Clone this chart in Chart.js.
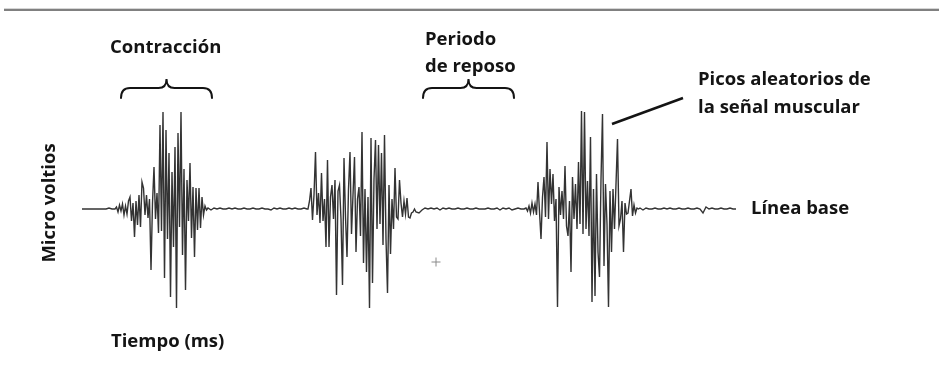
<!DOCTYPE html>
<html lang="es">
<head>
<meta charset="utf-8">
<title>Señal EMG</title>
<script src="https://cdn.jsdelivr.net/npm/chart.js@4.4.1/dist/chart.umd.min.js"></script>
<style>
  html, body { margin: 0; padding: 0; background: #fff; }
  #wrap { position: relative; width: 939px; height: 372px; overflow: hidden; }
  #wrap canvas { position: absolute; left: 0; top: 0; }
  #rule { position: absolute; left: 4px; top: 8px; width: 935px; height: 0;
          border-top: 1px solid #d6d6d6; border-bottom: 2px solid #808080; }
</style>
</head>
<body>
<div id="wrap">
  <canvas id="emg" width="939" height="372"></canvas>
  <div id="rule"></div>
</div>
<script>
// Surface EMG trace in microvolts (µV): quiet stretches sampled every 3 ms,
// contraction bursts sampled every 1.5 ms.
const REST_STEP_MS = 3;
const BURST_STEP_MS = 1.5;

const rest0Start = 0;
const rest0 = [0, 0, 0, 0, 0, 0, 0, 0, 0, 1, 0];

const burst1Start = 33;
const burst1 = [0, 2, -3, 4, -2, 5, -6, 3, -5, 8,
                12, -12, 6, -28, 8, -16, 14, -18, 27, 21,
                -6, 14, -9, 10, -61, 6, 42, -10, 16, -24,
                84, -22, 97, -69, 79, -30, 56, -88, 37, -38,
                62, -99, 76, -18, 97, -46, 40, -81, 29, -12,
                46, -29, 22, -48, 21, -21, 21, -19, 12, -6,
                3, -1];

const rest1Start = 126;
const rest1 = [1, -1, 1, 0, 1, 0, 0, 1, 0, 1, 0, 0, 1, 0, 0, 1, 0,
               0, 1, 0, 0, -1, 1, 0, 1, 0, 0, 1, 0, 1, 0, 0, 1, 0];

const burst2Start = 226;
const burst2 = [0, 8, 21, -11, 14, 57, -6, 16, -14, 36,
                -12, 10, -38, 49, -38, 12, 24, -10, 29, -86,
                18, 24, -10, -76, 51, -8, -48, 20, 57, -25,
                14, 52, -43, 10, 22, -27, 77, -54, 20, -63,
                12, -99, 71, -74, 30, 69, -20, 64, -15, 56,
                -36, 74, -30, -84, 24, -45, 10, -20, 41, -8,
                -10, 29, 6, -8, 8, -5, 11, -8, -9, -4,
                -3, 0];

const rest2Start = 334;
const rest2 = [-3, -4, -1, 1, 0, 1, 0, 1, -1, 1, 0, 1, 0, 0, 1, 0, 0, 1, 0,
               0, 1, 0, 0, 0, 1, 0, 0, 1, -1, 1, 0, 1, -1, 0, 1, 0, 0];

const burst3Start = 444;
const burst3 = [1, -2, 3, -4, 6, -3, 5, -6, 27, -3,
                -30, 12, 32, -8, 67, -10, 40, 5, 35, -12,
                10, -98, 22, -6, 18, -10, 43, -17, -27, 8,
                -63, 32, -10, 25, -20, 47, -15, 98, -25, 97,
                -20, 28, -27, 72, -93, 20, -87, 35, -43, -68,
                30, 95, -57, 25, -15, -98, 18, -43, 20, -20,
                25, 70, -17, -10, 8, -43, 6, -5, -4, 8,
                20, -7, 4, -4, 1, 0];

const rest3Start = 558;
const rest3 = [1, -1, 1, 0, 0, 1, 0, 0, 1, 0, 1, 0, 0, 1, 0, 0, 1,
               0, 0, 1, 0, -4, 2, 0, 1, 0, 0, 1, 0, 0, 1, 0, 0];

// Stray "+" mark below the second rest period.
const strayMark = [{ x: 354, y: -53 }];

const segments = [
  [rest0Start, REST_STEP_MS, rest0],
  [burst1Start, BURST_STEP_MS, burst1],
  [rest1Start, REST_STEP_MS, rest1],
  [burst2Start, BURST_STEP_MS, burst2],
  [rest2Start, REST_STEP_MS, rest2],
  [burst3Start, BURST_STEP_MS, burst3],
  [rest3Start, REST_STEP_MS, rest3]
];

const trace = [];
segments.forEach(([t0, step, values]) => {
  values.forEach((v, i) => trace.push({ x: t0 + i * step, y: v }));
});

// Labels, placed in (ms, µV) so they follow the scales.
const LABEL_FONT = 'bold 18.5px "Open Sans", "DejaVu Sans", sans-serif';
const labels = [
  { text: 'Contracción',          t: 28,  v: 156 },
  { text: 'Periodo',              t: 343, v: 164 },
  { text: 'de reposo',            t: 343, v: 137 },
  { text: 'Picos aleatorios de',  t: 616, v: 124 },
  { text: 'la señal muscular',    t: 616, v: 96 },
  { text: 'Línea base',           t: 669, v: -5 },
  { text: 'Tiempo (ms)',          t: 29,  v: -138 }
];
const yAxisLabel = { text: 'Micro voltios', t: -32, v: 6 };
const braces = [
  { from: 39,  to: 130 },
  { from: 341, to: 432 }
];
const pointer = { t1: 530, v1: 85, t2: 601, v2: 111 };

function drawBrace(ctx, x1, x2, yEnd, yBar, yTip) {
  const xm = (x1 + x2) / 2;
  ctx.beginPath();
  ctx.moveTo(x1, yEnd);
  ctx.quadraticCurveTo(x1, yBar, x1 + 9, yBar);
  ctx.lineTo(xm - 8, yBar);
  ctx.quadraticCurveTo(xm, yBar, xm, yTip);
  ctx.quadraticCurveTo(xm, yBar, xm + 8, yBar);
  ctx.lineTo(x2 - 9, yBar);
  ctx.quadraticCurveTo(x2, yBar, x2, yEnd);
  ctx.stroke();
}

const notesPlugin = {
  id: 'emgNotes',
  afterDatasetsDraw(chart) {
    const { ctx, scales: { x, y } } = chart;
    ctx.save();
    ctx.fillStyle = '#141414';
    ctx.strokeStyle = '#141414';
    ctx.font = LABEL_FONT;
    ctx.textAlign = 'left';
    ctx.textBaseline = 'alphabetic';
    labels.forEach(l => ctx.fillText(l.text, x.getPixelForValue(l.t), y.getPixelForValue(l.v)));

    ctx.save();
    ctx.translate(x.getPixelForValue(yAxisLabel.t), y.getPixelForValue(yAxisLabel.v));
    ctx.rotate(-Math.PI / 2);
    ctx.textAlign = 'center';
    ctx.textBaseline = 'middle';
    ctx.fillText(yAxisLabel.text, 0, 0);
    ctx.restore();

    ctx.lineWidth = 2;
    ctx.lineCap = 'round';
    const yEnd = y.getPixelForValue(111);
    const yBar = y.getPixelForValue(121);
    const yTip = y.getPixelForValue(130);
    braces.forEach(b => drawBrace(ctx, x.getPixelForValue(b.from), x.getPixelForValue(b.to), yEnd, yBar, yTip));

    ctx.lineWidth = 2.5;
    ctx.lineCap = 'butt';
    ctx.beginPath();
    ctx.moveTo(x.getPixelForValue(pointer.t1), y.getPixelForValue(pointer.v1));
    ctx.lineTo(x.getPixelForValue(pointer.t2), y.getPixelForValue(pointer.v2));
    ctx.stroke();
    ctx.restore();
  }
};

new Chart(document.getElementById('emg'), {
  type: 'line',
  data: {
    datasets: [
      {
        label: 'EMG',
        data: trace,
        borderColor: '#333333',
        borderWidth: 1.4,
        pointRadius: 0,
        tension: 0,
        fill: false
      },
      {
        type: 'scatter',
        label: '+',
        data: strayMark,
        pointStyle: 'cross',
        pointRadius: 4.5,
        borderColor: '#8a8a8a',
        borderWidth: 1,
        showLine: false
      }
    ]
  },
  options: {
    responsive: false,
    devicePixelRatio: 1,
    animation: false,
    layout: { padding: { left: 82, right: 202, top: 109, bottom: 63 } },
    plugins: { legend: { display: false }, tooltip: { enabled: false } },
    scales: {
      x: { type: 'linear', min: 0, max: 655, display: false },
      y: { type: 'linear', min: -100, max: 100, display: false }
    }
  },
  plugins: [notesPlugin]
});
</script>
</body>
</html>
